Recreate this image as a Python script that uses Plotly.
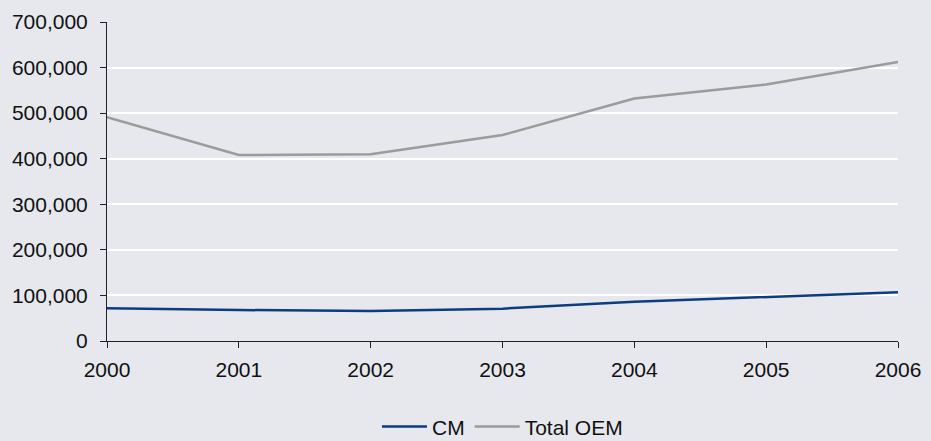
import plotly.graph_objects as go

years = [2000, 2001, 2002, 2003, 2004, 2005, 2006]
cm = [72000, 68000, 66000, 71000, 86000, 96000, 107000]
total_oem = [491000, 408000, 410000, 452000, 532000, 563000, 612000]

bg = "#E6E8ED"

fig = go.Figure()
fig.add_trace(go.Scatter(x=years, y=cm, name="CM", mode="lines",
                         line=dict(color="#0D3D7F", width=2.5)))
fig.add_trace(go.Scatter(x=years, y=total_oem, name="Total OEM", mode="lines",
                         line=dict(color="#9B9B9B", width=2.5)))

fig.update_layout(
    width=931, height=441,
    paper_bgcolor=bg, plot_bgcolor=bg,
    margin=dict(l=107, r=33, t=22, b=100, autoexpand=False),
    font=dict(family="Liberation Sans, Arial", size=21, color="#111111"),
    showlegend=True,
    legend=dict(orientation="h", x=0.5, xanchor="center",
                yref="container", y=0.032, yanchor="middle",
                font=dict(size=21), itemwidth=45, tracegroupgap=0,
                bgcolor="rgba(0,0,0,0)"),
    xaxis=dict(range=[2000, 2006], tickmode="array", tickvals=years,
               ticktext=[str(y) for y in years],
               showgrid=False, zeroline=False, showline=True,
               linecolor="#222222", linewidth=1,
               ticks="outside", ticklen=6, tickcolor="#222222",
               ticklabelstandoff=4),
    yaxis=dict(range=[0, 700000], dtick=100000, tickformat=",",
               showgrid=True, gridcolor="white", gridwidth=2,
               zeroline=False, showline=True, linecolor="#222222", linewidth=1,
               ticks="outside", ticklen=6, tickcolor="#222222",
               ticklabelstandoff=8),
)

fig.write_html("out.html")
